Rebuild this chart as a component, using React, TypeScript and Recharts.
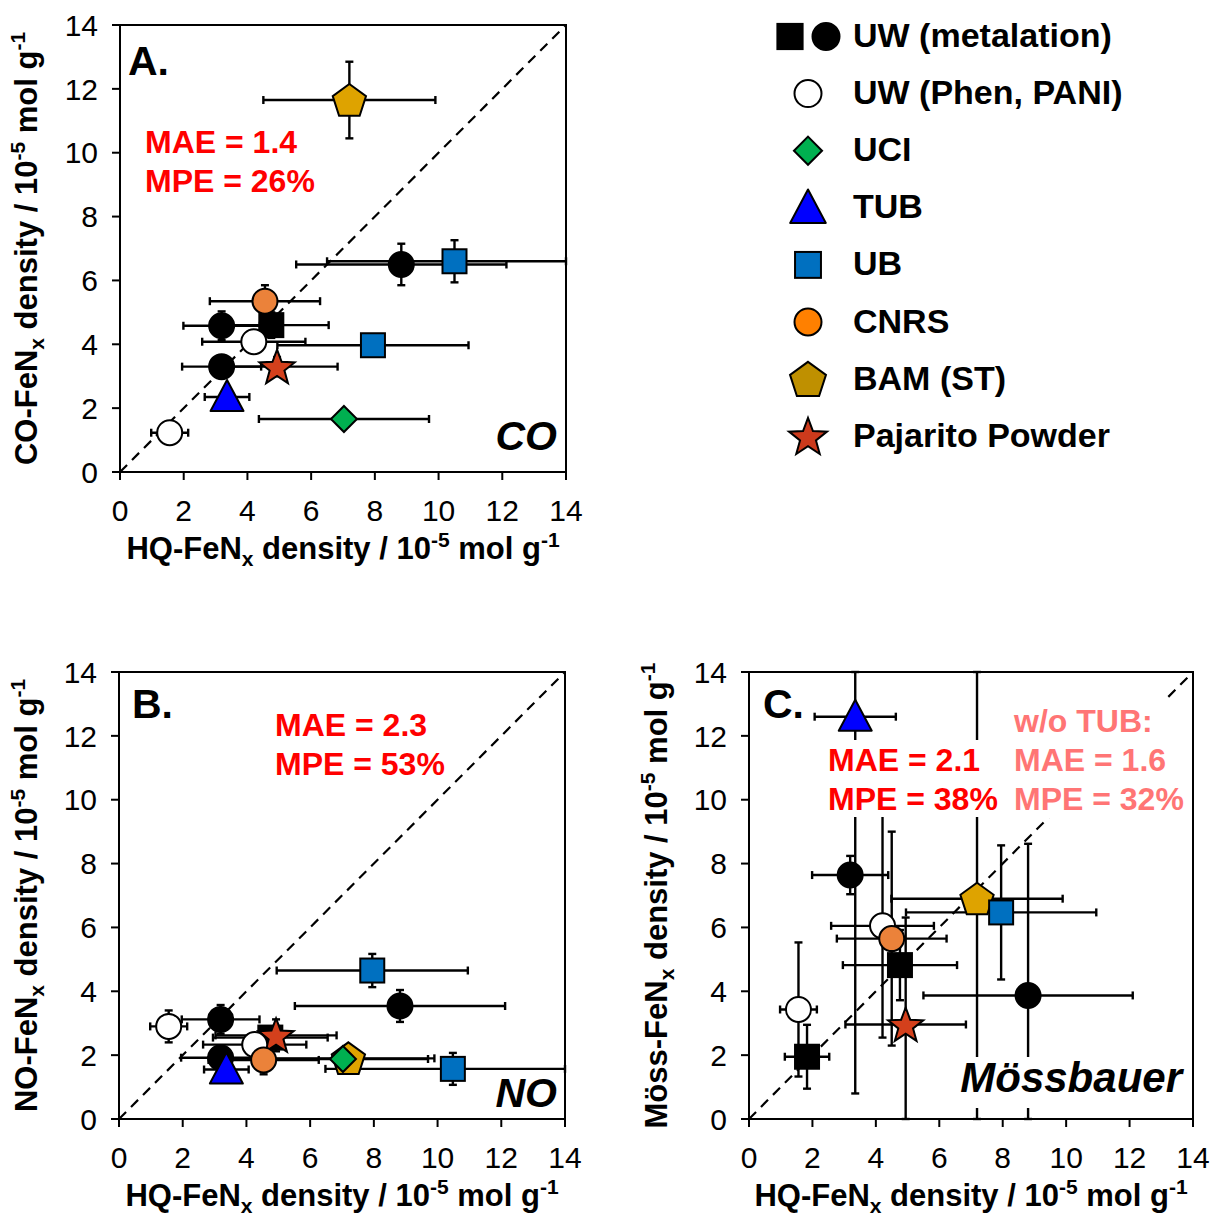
import React from "react";
import { ScatterChart, Scatter, XAxis, YAxis, ErrorBar, ReferenceLine, ReferenceArea } from "recharts";

const FONT = '"Liberation Sans", Arial, Helvetica, sans-serif';

type Group = "uwSq" | "uwCi" | "uwOpen" | "uci" | "tub" | "ub" | "cnrs" | "bam" | "paj";

interface Pt {
  group: Group;
  x: number;
  y: number;
  ex: number;
  ey: number;
}

const AXIS_MAX = 14;
const AXIS_TICKS = [0, 2, 4, 6, 8, 10, 12, 14];
const DIAGONAL = [{ x: 0, y: 0 }, { x: 14, y: 14 }];

// A. HQ vs CO
const coPoints: Pt[] = [
  { group: "bam", x: 7.2, y: 11.65, ex: 2.7, ey: 1.2 },
  { group: "uwCi", x: 8.83, y: 6.5, ex: 3.3, ey: 0.65 },
  { group: "ub", x: 10.5, y: 6.6, ex: 4.0, ey: 0.66 },
  { group: "cnrs", x: 4.55, y: 5.35, ex: 1.73, ey: 0.5 },
  { group: "uwCi", x: 3.19, y: 4.58, ex: 1.2, ey: 0.45 },
  { group: "uwSq", x: 4.75, y: 4.6, ex: 1.8, ey: 0.4 },
  { group: "uwOpen", x: 4.2, y: 4.08, ex: 1.62, ey: 0.3 },
  { group: "ub", x: 7.94, y: 3.97, ex: 3.0, ey: 0.3 },
  { group: "uwCi", x: 3.19, y: 3.3, ex: 1.24, ey: 0.3 },
  { group: "paj", x: 4.93, y: 3.3, ex: 1.9, ey: 0.3 },
  { group: "tub", x: 3.36, y: 2.35, ex: 0.7, ey: 0.2 },
  { group: "uci", x: 7.03, y: 1.66, ex: 2.67, ey: 0.1 },
  { group: "uwOpen", x: 1.56, y: 1.23, ex: 0.58, ey: 0.2 },
];

// B. HQ vs NO
const noPoints: Pt[] = [
  { group: "ub", x: 7.95, y: 4.65, ex: 3.0, ey: 0.52 },
  { group: "uwCi", x: 8.82, y: 3.54, ex: 3.3, ey: 0.5 },
  { group: "uwOpen", x: 1.56, y: 2.9, ex: 0.58, ey: 0.5 },
  { group: "uwCi", x: 3.19, y: 3.12, ex: 1.22, ey: 0.45 },
  { group: "uwSq", x: 4.75, y: 2.55, ex: 1.8, ey: 0.3 },
  { group: "paj", x: 4.93, y: 2.62, ex: 1.9, ey: 0.5 },
  { group: "uwOpen", x: 4.26, y: 2.33, ex: 1.62, ey: 0.3 },
  { group: "cnrs", x: 4.54, y: 1.85, ex: 1.73, ey: 0.45 },
  { group: "uwCi", x: 3.19, y: 1.92, ex: 1.24, ey: 0.3 },
  { group: "tub", x: 3.37, y: 1.55, ex: 0.7, ey: 0.2 },
  { group: "uci", x: 7.03, y: 1.88, ex: 2.67, ey: 0.2 },
  { group: "bam", x: 7.2, y: 1.9, ex: 2.7, ey: 0.2 },
  { group: "ub", x: 10.48, y: 1.57, ex: 4.0, ey: 0.5 },
];

// C. HQ vs Mössbauer
const mossPoints: Pt[] = [
  { group: "tub", x: 3.35, y: 12.6, ex: 1.28, ey: 11.8 },
  { group: "bam", x: 7.19, y: 6.9, ex: 2.7, ey: 7.5 },
  { group: "uwCi", x: 3.19, y: 7.64, ex: 1.2, ey: 0.6 },
  { group: "uwOpen", x: 4.21, y: 6.05, ex: 1.62, ey: 3.5 },
  { group: "cnrs", x: 4.5, y: 5.65, ex: 1.73, ey: 3.35 },
  { group: "uwSq", x: 4.76, y: 4.82, ex: 1.8, ey: 1.1 },
  { group: "paj", x: 4.94, y: 2.96, ex: 1.9, ey: 3.35 },
  { group: "ub", x: 7.95, y: 6.47, ex: 3.0, ey: 2.1 },
  { group: "uwCi", x: 8.8, y: 3.87, ex: 3.3, ey: 4.75 },
  { group: "uwOpen", x: 1.56, y: 3.43, ex: 0.58, ey: 2.1 },
  { group: "uwSq", x: 1.83, y: 1.95, ex: 0.7, ey: 1.0 },
];

const legendItems: { groups: Group[]; label: string }[] = [
  { groups: ["uwSq", "uwCi"], label: "UW (metalation)" },
  { groups: ["uwOpen"], label: "UW (Phen, PANI)" },
  { groups: ["uci"], label: "UCI" },
  { groups: ["tub"], label: "TUB" },
  { groups: ["ub"], label: "UB" },
  { groups: ["cnrs"], label: "CNRS" },
  { groups: ["bam"], label: "BAM (ST)" },
  { groups: ["paj"], label: "Pajarito Powder" },
];

const DRAW_ORDER: Group[] = ["bam", "ub", "uwSq", "paj", "uwCi", "uwOpen", "cnrs", "tub", "uci"];

const FILL: Record<Group, string> = {
  uwSq: "#000000",
  uwCi: "#000000",
  uwOpen: "#ffffff",
  uci: "#00B050",
  tub: "#0000FF",
  ub: "#0070C0",
  cnrs: "#EB823A",
  bam: "#DEA300",
  paj: "#D4401C",
};

// the legend swatches use slightly different tones than the plot marks
const LEGEND_FILL: Partial<Record<Group, string>> = {
  cnrs: "#FF8000",
  bam: "#BF9000",
  paj: "#CC3A1C",
};

function Marker({ group, cx, cy, k = 1, fill }: { group: Group; cx: number; cy: number; k?: number; fill?: string }) {
  const st = { fill: fill ?? FILL[group], stroke: "#000", strokeWidth: 2 };
  if (group === "uwSq" || group === "ub") {
    const h = 12 * k;
    return <rect x={cx - h} y={cy - h} width={2 * h} height={2 * h} {...st} />;
  }
  if (group === "uci") {
    const h = 13 * k;
    return <polygon points={`${cx},${cy - h} ${cx + h},${cy} ${cx},${cy + h} ${cx - h},${cy}`} {...st} />;
  }
  if (group === "tub") {
    const w = 16.5 * k;
    return (
      <polygon
        points={`${cx},${cy - 17 * k} ${cx + w},${cy + 14 * k} ${cx - w},${cy + 14 * k}`}
        {...st}
        strokeLinejoin="round"
      />
    );
  }
  if (group === "bam" || group === "paj") {
    const R = (group === "paj" ? 18.5 : 17.5) * k;
    const n = group === "paj" ? 10 : 5;
    const pts: string[] = [];
    for (let i = 0; i < n; i++) {
      const a = -Math.PI / 2 + (i * 2 * Math.PI) / n;
      const r = group === "paj" && i % 2 === 1 ? R * 0.42 : R;
      pts.push(`${cx + r * Math.cos(a)},${cy + 1.5 * k + r * Math.sin(a)}`);
    }
    return <polygon points={pts.join(" ")} {...st} />;
  }
  return <circle cx={cx} cy={cy} r={12.5 * k} {...st} />;
}

function AxisTitle(props: any) {
  const { viewBox, axis, prefix } = props;
  if (!viewBox) return null;
  const common = { fontSize: 31, fontWeight: "bold", fontFamily: FONT, fill: "#000", textAnchor: "middle" as const };
  const content = [
    <tspan key="a">{`${prefix}-FeN`}</tspan>,
    <tspan key="b" dy={7} fontSize={21}>x</tspan>,
    <tspan key="c" dy={-7}>{" density / 10"}</tspan>,
    <tspan key="d" dy={-12} fontSize={21}>-5</tspan>,
    <tspan key="e" dy={12}>{" mol g"}</tspan>,
    <tspan key="f" dy={-12} fontSize={21}>-1</tspan>,
  ];
  if (axis === "x") {
    return (
      <text x={viewBox.x + viewBox.width / 2} y={viewBox.y + 87} {...common}>
        {content}
      </text>
    );
  }
  const x = viewBox.x + 37;
  const y = viewBox.y + viewBox.height / 2;
  return (
    <text x={x} y={y} transform={`rotate(-90, ${x}, ${y})`} {...common}>
      {content}
    </text>
  );
}

const CHART_H = 580;

// error bars stop at the plot frame, like the clipped bars of the original
const clipErr = (v: number, e: number) => [Math.min(e, v), Math.min(e, AXIS_MAX - v)];

function Panel({
  points,
  left,
  top,
  width,
  yWidth,
  plotW,
  yPrefix,
}: {
  points: Pt[];
  left: number;
  top: number;
  width: number;
  yWidth: number;
  plotW: number;
  yPrefix: string;
}) {
  const right = width - yWidth - plotW;
  const ordered = [...points]
    .sort((a, b) => DRAW_ORDER.indexOf(a.group) - DRAW_ORDER.indexOf(b.group))
    .map((p) => ({ ...p, exr: clipErr(p.x, p.ex), eyr: clipErr(p.y, p.ey) }));
  const axisStyle = { stroke: "#000", strokeWidth: 2 };
  const tickStyle = { fontSize: 30, fill: "#000", fontFamily: FONT };
  return (
    <div style={{ position: "absolute", left, top }}>
      <ScatterChart width={width} height={CHART_H} margin={{ top: 25, right, bottom: 0, left: 0 }}>
        <XAxis
          type="number"
          dataKey="x"
          domain={[0, AXIS_MAX]}
          ticks={AXIS_TICKS}
          interval={0}
          allowDataOverflow
          height={108}
          tickSize={8}
          tickMargin={20}
          axisLine={axisStyle}
          tickLine={axisStyle}
          tick={tickStyle}
          label={<AxisTitle axis="x" prefix="HQ" />}
        />
        <YAxis
          type="number"
          dataKey="y"
          domain={[0, AXIS_MAX]}
          ticks={AXIS_TICKS}
          interval={0}
          allowDataOverflow
          width={yWidth}
          tickSize={8}
          tickMargin={14}
          axisLine={axisStyle}
          tickLine={axisStyle}
          tick={tickStyle}
          label={<AxisTitle axis="y" prefix={yPrefix} />}
        />
        <ReferenceArea x1={0} x2={AXIS_MAX} y1={0} y2={AXIS_MAX} fill="none" fillOpacity={0} stroke="#000" strokeWidth={2} />
        <ReferenceLine segment={DIAGONAL} stroke="#000" strokeWidth={2.2} strokeDasharray="10 7" />
        <Scatter data={ordered} isAnimationActive={false} shape={() => <g />}>
          <ErrorBar dataKey="exr" direction="x" width={4} stroke="#000" strokeWidth={2.4} />
          <ErrorBar dataKey="eyr" direction="y" width={4} stroke="#000" strokeWidth={2.4} />
        </Scatter>
        <Scatter
          data={ordered}
          isAnimationActive={false}
          shape={(p: any) => <Marker group={(p.payload ?? p).group} cx={p.cx} cy={p.cy} />}
        />
      </ScatterChart>
    </div>
  );
}

export default function App() {
  const bold = { fontWeight: "bold" as const, fontFamily: FONT };
  return (
    <div style={{ position: "absolute", left: 0, top: 0, width: 1210, height: 1220, overflow: "hidden", background: "#fff" }}>
      <Panel points={coPoints} left={0} top={0} width={600} yWidth={120} plotW={446} yPrefix="CO" />
      <Panel points={noPoints} left={0} top={647} width={600} yWidth={119} plotW={446} yPrefix="NO" />
      <Panel points={mossPoints} left={630} top={647} width={580} yWidth={119} plotW={444} yPrefix="Möss" />
      <svg width={1210} height={1220} style={{ position: "absolute", left: 0, top: 0 }}>
        {/* panel A notes */}
        <text x={128} y={75} fontSize={41} {...bold}>A.</text>
        <text x={145} y={153} fontSize={32} fill="#FF0000" {...bold}>MAE = 1.4</text>
        <text x={145} y={192} fontSize={32} fill="#FF0000" {...bold}>MPE = 26%</text>
        <text x={557} y={450} fontSize={41} fontStyle="italic" textAnchor="end" {...bold}>CO</text>
        {/* panel B notes */}
        <text x={132} y={718} fontSize={41} {...bold}>B.</text>
        <text x={275} y={736} fontSize={32} fill="#FF0000" {...bold}>MAE = 2.3</text>
        <text x={275} y={775} fontSize={32} fill="#FF0000" {...bold}>MPE = 53%</text>
        <text x={557} y={1107} fontSize={41} fontStyle="italic" textAnchor="end" {...bold}>NO</text>
        {/* panel C notes */}
        <text x={763} y={718} fontSize={41} {...bold}>C.</text>
        <rect x={825} y={740} width={182} height={77} fill="#fff" />
        <rect x={1008} y={698} width={184} height={120} fill="#fff" />
        <text x={828} y={771} fontSize={32} fill="#FF0000" {...bold}>MAE = 2.1</text>
        <text x={828} y={810} fontSize={32} fill="#FF0000" {...bold}>MPE = 38%</text>
        <text x={1014} y={732} fontSize={32} fill="#FF7575" {...bold}>w/o TUB:</text>
        <text x={1014} y={771} fontSize={32} fill="#FF7575" {...bold}>MAE = 1.6</text>
        <text x={1014} y={810} fontSize={32} fill="#FF7575" {...bold}>MPE = 32%</text>
        <rect x={949} y={1057} width={241} height={51} fill="#fff" />
        <text x={1182} y={1092} fontSize={42} fontStyle="italic" textAnchor="end" {...bold}>Mössbauer</text>
        {/* legend */}
        {legendItems.map((item, i) => {
          const base = 47 + 57.1 * i;
          const cy = base - 10.5;
          return (
            <g key={item.label}>
              {item.groups.length === 2 ? (
                <>
                  <Marker group={item.groups[0]} cx={790} cy={cy} k={1.05} />
                  <Marker group={item.groups[1]} cx={826} cy={cy} k={1.08} />
                </>
              ) : (
                <Marker group={item.groups[0]} cx={808} cy={cy} k={1.08} fill={LEGEND_FILL[item.groups[0]]} />
              )}
              <text x={853} y={base} fontSize={34} {...bold}>{item.label}</text>
            </g>
          );
        })}
      </svg>
    </div>
  );
}
